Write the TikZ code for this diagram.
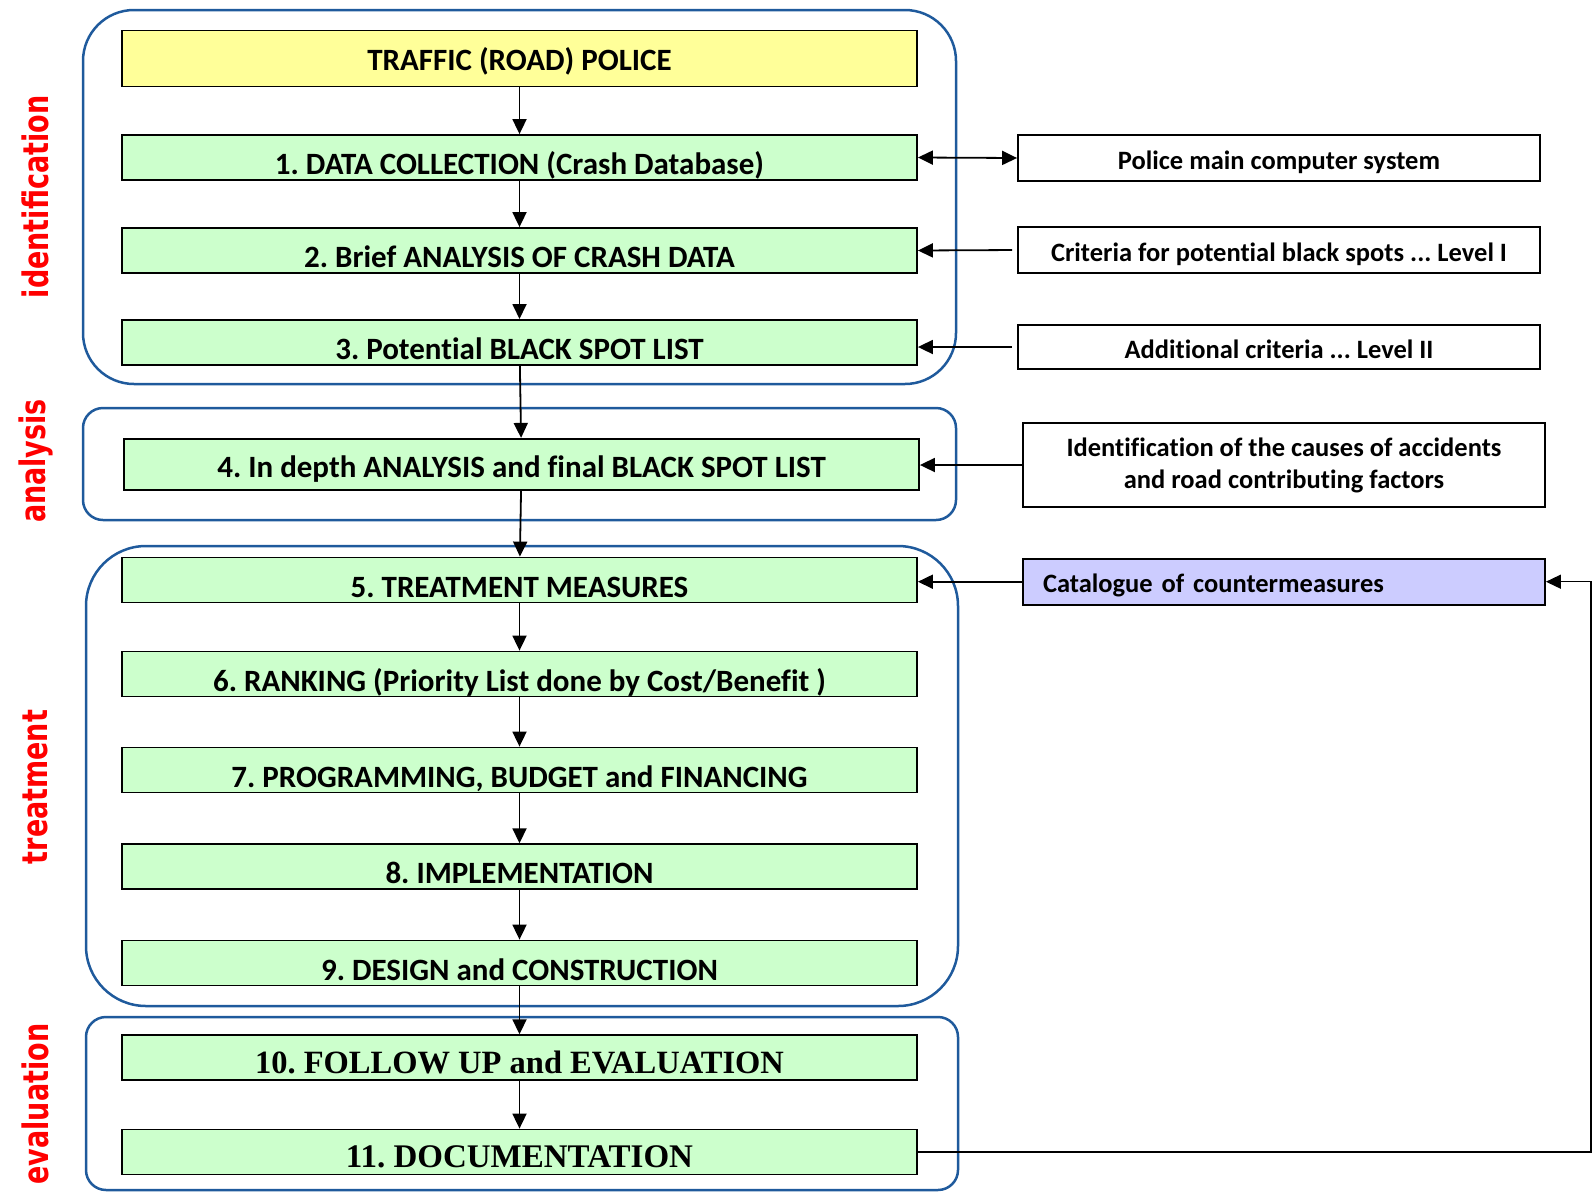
\documentclass[tikz,border=0pt]{standalone}
\usepackage{fontspec}
\setmainfont{Carlito}[Ligatures=NoCommon]
\newfontfamily\serifbox{Liberation Serif}
\newfontfamily\phasefont{DejaVu Sans}
\usepackage{tikz}
\usetikzlibrary{arrows.meta,positioning,calc}

\definecolor{stepgreen}{HTML}{CCFFCC}
\definecolor{policeyellow}{HTML}{FFFF99}
\definecolor{cataloguelilac}{HTML}{CCCCFF}
\definecolor{frameblue}{HTML}{1F5A9C}

\begin{document}
\frenchspacing
\begin{tikzpicture}[
    x=1pt, y=-1pt,
    stepbox/.style={draw, line width=1.8pt, fill=stepgreen, minimum width=795pt, minimum height=45pt,
        inner sep=0pt, font=\fontsize{31}{36}\selectfont\bfseries, text height=36pt, text depth=2pt},
    infobox/.style={draw, line width=1.8pt, fill=white, minimum width=522pt, minimum height=46pt,
        inner sep=0pt, font=\fontsize{26.5}{32}\selectfont\bfseries, text height=24pt, text depth=2pt},
    phase/.style={rotate=90, yscale=1.3, transform shape, text=red, font=\phasefont\bfseries\fontsize{27}{27}\selectfont},
    group/.style={draw=frameblue, line width=2.5pt},
    flowarrow/.style={-{Triangle[length=15pt,width=14pt]}, line width=1.8pt},
    twoway/.style={{Triangle[length=15pt,width=14pt]}-{Triangle[length=15pt,width=14pt]}, line width=1.8pt}
]
\useasboundingbox (0,0) rectangle (1593,1192);

% phase frames
\draw[group, rounded corners=51pt] (83,10) rectangle (956,384);
\draw[group, rounded corners=20pt] (83,408) rectangle (956,520);
\draw[group, rounded corners=60pt] (86,546) rectangle (958,1006);
\draw[group, rounded corners=20pt] (86,1017) rectangle (958,1190);

% phase labels
\node[phase] (lid) at (35.5,197) {identification};
\node[phase] (lan) at (35.5,461) {analysis};
\node[phase] (ltr) at (35.5,787) {treatment};
\node[phase] (lev) at (35.5,1104) {evaluation};

% main chain
\node[stepbox, fill=policeyellow, minimum height=56pt, text height=27pt] (police) at (519.5,58.4) {TRAFFIC (ROAD) POLICE};
\node[stepbox] (b1) at (519.5,157.5) {1. DATA COLLECTION (Crash Database)};
\node[stepbox] (b2) at (519.5,250.5) {2. Brief ANALYSIS OF CRASH DATA};
\node[stepbox] (b3) at (519.5,342.4) {3. Potential BLACK SPOT LIST};
\node[stepbox, minimum height=51pt, text height=28.4pt] (b4) at (521.5,464.3) {4. In depth ANALYSIS and final BLACK SPOT LIST};
\node[stepbox] (b5) at (519.5,580) {5. TREATMENT MEASURES};
\node[stepbox] (b6) at (519.5,674) {6. RANKING (Priority List done by Cost/Benefit )};
\node[stepbox] (b7) at (519.5,770) {7. PROGRAMMING, BUDGET and FINANCING};
\node[stepbox] (b8) at (519.5,866.7) {8. IMPLEMENTATION};
\node[stepbox] (b9) at (519.5,963) {9. DESIGN and CONSTRUCTION};
\node[stepbox, font=\serifbox\fontsize{32.5}{36}\selectfont\bfseries, text height=34pt] (b10) at (519.5,1057.7) {10. FOLLOW UP and EVALUATION};
\node[stepbox, font=\serifbox\fontsize{33}{36}\selectfont\bfseries, text height=32pt] (b11) at (519.5,1152) {11. DOCUMENTATION};

% side inputs
\node[infobox] (pcs) at (1279,158) {Police main computer system};
\node[infobox] (crit) at (1279,250) {Criteria for potential black spots ... Level I};
\node[infobox, minimum height=44pt] (addc) at (1279,347) {Additional criteria ... Level II};
\node[infobox, minimum height=84pt, align=center, text height=, text depth=] (causes) at (1284,465)
    {Identification of the causes of accidents\\and road contributing factors};
\node[infobox, fill=cataloguelilac, text width=482pt, align=left, inner xsep=20pt] (cat) at (1284,581.7)
    {Catalogue of countermeasures};

\foreach \a/\b in {police/b1, b1/b2, b2/b3, b3/b4, b4/b5, b5/b6, b6/b7, b7/b8, b8/b9, b9/b10, b10/b11}
    \draw[flowarrow] (\a) -- (\b);

\draw[twoway] (b1.east) -- (pcs.west);
\draw[flowarrow, shorten <=5pt] (crit.west) -- (b2.east);
\draw[flowarrow, shorten <=5pt] (addc.west) -- (b3.east |- addc.west);
\draw[flowarrow] (causes.west) -- (b4.east |- causes.west);
\draw[flowarrow] (cat.west) -- (b5.east |- cat.west);

% feedback from documentation
\coordinate (fb) at (1591,1152);
\draw[flowarrow, line width=1.4pt] (b11.east) -- (fb) |- (cat.east);
\end{tikzpicture}
\end{document}
